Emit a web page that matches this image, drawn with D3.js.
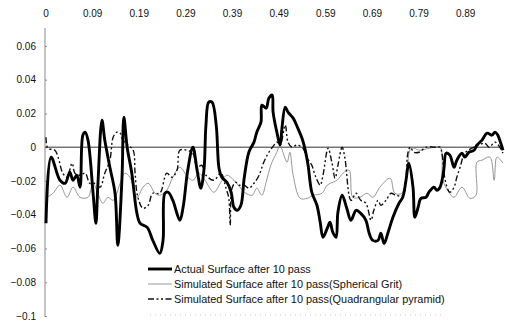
<!DOCTYPE html>
<html>
<head>
<meta charset="utf-8">
<script src="https://cdn.jsdelivr.net/npm/d3@7"></script>
<style>
  body { margin: 0; background: #fff; }
  svg { display: block; font-family: "Liberation Sans", Arial, sans-serif; }
  .axis-y path { stroke: #8a8a8a; }
  .axis-y line { stroke: #8a8a8a; }
  .axis-y text { fill: #111; font-size: 10px; }
  .xlabel { fill: #111; font-size: 10px; }
  .legend text { fill: #111; font-size: 10.9px; }
</style>
</head>
<body>
<div id="chart"></div>
<script>
// x positions of the top labels (category axis, label every 10th point)
const xTickPos = [0, 0.1, 0.2, 0.3, 0.4, 0.5, 0.6, 0.7, 0.8, 0.9];
const xTickLabels = ["0", "0.09", "0.19", "0.29", "0.39", "0.49", "0.59", "0.69", "0.79", "0.89"];
const yTicks = [0.06, 0.04, 0.02, 0, -0.02, -0.04, -0.06, -0.08, -0.1];

const seriesNames = [
  "Actual Surface after 10 pass",
  "Simulated Surface after 10 pass(Spherical Grit)",
  "Simulated Surface after 10 pass(Quadrangular pyramid)"
];

// [x, height]
const actual = [
  [0, -0.0451], [0.011, -0.0059], [0.030, -0.0196], [0.041, -0.0214], [0.051, -0.0148],
  [0.058, -0.0196], [0.066, -0.0166], [0.073, -0.0237], [0.079, 0.0071], [0.084, 0.0089],
  [0.090, 0.0042], [0.101, -0.0273], [0.107, -0.0451], [0.111, -0.0237], [0.120, 0.0160],
  [0.126, 0.0042], [0.137, -0.0119], [0.148, -0.0273], [0.154, -0.0581], [0.163, -0.0178],
  [0.167, 0.0178], [0.174, 0], [0.184, -0.0154], [0.195, -0.0392], [0.202, -0.0451],
  [0.217, -0.0475], [0.229, -0.0552], [0.244, -0.0629], [0.251, -0.0552], [0.255, -0.0273],
  [0.262, -0.0267], [0.272, -0.0315], [0.287, -0.0433], [0.294, -0.0356], [0.304, -0.0136],
  [0.315, 0], [0.324, -0.0136], [0.332, -0.0243], [0.339, -0.0125], [0.343, 0.0131],
  [0.349, 0.0267], [0.356, 0.0267], [0.365, 0.0131], [0.371, -0.0125], [0.377, -0.0178],
  [0.388, -0.0208], [0.397, -0.0267], [0.403, -0.0356], [0.410, -0.0374], [0.418, -0.0344],
  [0.425, -0.0184], [0.435, -0.0030], [0.446, 0.0030], [0.452, 0.0089], [0.461, 0.0148],
  [0.463, 0.0249], [0.472, 0.0231], [0.478, 0.0291], [0.485, 0.0309], [0.487, 0.0208],
  [0.495, 0.0089], [0.502, 0.0012], [0.506, 0.0113], [0.513, 0.0237], [0.519, 0.0208],
  [0.530, 0.0172], [0.540, 0.0113], [0.549, 0.0053], [0.555, -0.0006], [0.562, -0.0107],
  [0.570, -0.0267], [0.581, -0.0344], [0.588, -0.0445], [0.594, -0.0534], [0.603, -0.0481],
  [0.609, -0.0445], [0.615, -0.0504], [0.622, -0.0534], [0.626, -0.0386], [0.635, -0.0285],
  [0.645, -0.0362], [0.654, -0.0433], [0.665, -0.0374], [0.675, -0.0392], [0.686, -0.0433],
  [0.693, -0.0510], [0.701, -0.0552], [0.712, -0.0552], [0.718, -0.0510], [0.725, -0.0570],
  [0.733, -0.0510], [0.744, -0.0415], [0.757, -0.0332], [0.765, -0.0297], [0.772, -0.0196],
  [0.778, -0.0095], [0.787, -0.0237], [0.791, -0.0415], [0.798, -0.0356], [0.804, -0.0303],
  [0.815, -0.0297], [0.821, -0.0267], [0.832, -0.0237], [0.838, -0.0255], [0.845, -0.0237],
  [0.853, -0.0136], [0.858, -0.0036], [0.866, -0.0047], [0.875, -0.0119], [0.881, -0.0077],
  [0.892, -0.0036], [0.898, -0.0059], [0.907, -0.0030], [0.918, -0.0018], [0.924, 0.0012],
  [0.935, 0.0042], [0.946, 0.0083], [0.956, 0.0071], [0.963, 0.0089], [0.969, 0.0071],
  [0.973, 0.0042], [0.980, -0.0018]
];

const spherical = [
  [0.002, -0.0297], [0.015, -0.0273], [0.030, -0.0225], [0.045, -0.0297], [0.058, -0.0237],
  [0.073, -0.0297], [0.090, -0.0297], [0.101, -0.0214], [0.111, -0.0273], [0.122, -0.0332],
  [0.133, -0.0297], [0.144, -0.0315], [0.159, -0.0214], [0.169, -0.0154], [0.180, -0.0178],
  [0.195, -0.0297], [0.208, -0.0237], [0.219, -0.0214], [0.234, -0.0273], [0.244, -0.0285],
  [0.259, -0.0255], [0.272, -0.0178], [0.287, -0.0119], [0.304, -0.0178], [0.315, -0.0196],
  [0.328, -0.0154], [0.341, -0.0196], [0.360, -0.0267], [0.375, -0.0208], [0.388, -0.0166],
  [0.403, -0.0196], [0.416, -0.0237], [0.425, -0.0267], [0.442, -0.0285], [0.452, -0.0243],
  [0.463, -0.0285], [0.472, -0.0208], [0.482, -0.0107], [0.495, -0.0030], [0.502, 0.0012],
  [0.508, -0.0030], [0.517, -0.0089], [0.523, -0.0030], [0.530, -0.0166], [0.545, -0.0303],
  [0.560, -0.0303], [0.573, -0.0285], [0.592, -0.0273], [0.603, -0.0225], [0.624, -0.0196],
  [0.637, -0.0154], [0.650, -0.0136], [0.658, -0.0297], [0.673, -0.0297], [0.688, -0.0273],
  [0.701, -0.0297], [0.716, -0.0237], [0.738, -0.0184], [0.748, -0.0273], [0.763, -0.0273],
  [0.774, -0.0154], [0.783, -0.0006], [0.802, -0.0018], [0.823, -0.0006], [0.845, 0],
  [0.851, -0.0196], [0.864, -0.0267], [0.875, -0.0297], [0.892, -0.0237], [0.909, -0.0303],
  [0.922, -0.0285], [0.924, -0.0089], [0.935, -0.0077], [0.952, -0.0059], [0.961, -0.0196],
  [0.967, -0.0059], [0.980, -0.0095]
];

const pyramid = [
  [0, 0.0059], [0.004, -0.0006], [0.019, -0.0018], [0.026, -0.0059], [0.036, -0.0154],
  [0.045, -0.0178], [0.056, -0.0095], [0.062, -0.0154], [0.073, -0.0166], [0.084, -0.0154],
  [0.094, -0.0214], [0.105, -0.0214], [0.116, -0.0237], [0.126, -0.0154], [0.137, -0.0077],
  [0.144, 0.0059], [0.152, 0.0089], [0.159, 0.0083], [0.165, 0.0042], [0.176, 0.0012],
  [0.187, -0.0018], [0.191, -0.0154], [0.197, -0.0297], [0.208, -0.0362], [0.219, -0.0344],
  [0.229, -0.0273], [0.244, -0.0273], [0.259, -0.0154], [0.270, -0.0178], [0.281, -0.0136],
  [0.287, -0.0018], [0.302, -0.0018], [0.315, -0.0036], [0.324, -0.0119], [0.334, -0.0107],
  [0.343, -0.0166], [0.360, -0.0196], [0.375, -0.0154], [0.386, -0.0243], [0.392, -0.0303],
  [0.395, -0.0463], [0.399, -0.0243], [0.407, -0.0208], [0.414, -0.0225], [0.425, -0.0225],
  [0.435, -0.0243], [0.446, -0.0214], [0.457, -0.0166], [0.467, -0.0089], [0.478, -0.0030],
  [0.489, 0.0012], [0.495, 0.0030], [0.502, 0.0012], [0.513, 0.0131], [0.519, 0.0030],
  [0.527, 0], [0.538, 0.0012], [0.551, -0.0006], [0.560, -0.0065], [0.570, -0.0107],
  [0.577, -0.0166], [0.588, -0.0225], [0.594, -0.0166], [0.605, -0.0006], [0.613, -0.0089],
  [0.620, -0.0184], [0.626, -0.0107], [0.635, 0], [0.641, -0.0065], [0.654, -0.0315],
  [0.665, -0.0273], [0.675, -0.0315], [0.686, -0.0332], [0.697, -0.0433], [0.703, -0.0374],
  [0.712, -0.0315], [0.718, -0.0344], [0.729, -0.0315], [0.740, -0.0273], [0.750, -0.0285],
  [0.765, -0.0285], [0.776, -0.0036], [0.781, 0], [0.789, -0.0030], [0.800, -0.0030],
  [0.815, 0], [0.834, 0], [0.845, 0], [0.849, -0.0036], [0.856, -0.0196],
  [0.866, -0.0267], [0.875, -0.0237], [0.881, -0.0178], [0.888, -0.0119], [0.898, -0.0036],
  [0.913, -0.0006], [0.928, 0.0012], [0.941, 0.0024], [0.950, 0], [0.963, 0.0030],
  [0.973, 0], [0.980, -0.0036]
];

const width = 505, height = 324;
const margin = { top: 29, right: 2, bottom: 8, left: 46 };

const svg = d3.select('#chart').append('svg')
  .attr('width', width)
  .attr('height', height);

const x = d3.scaleLinear().domain([0, 0.98]).range([margin.left, width - margin.right]);
const y = d3.scaleLinear().domain([-0.1, 0.07]).range([height - margin.bottom, margin.top]);

// y axis on the left
const yAxis = svg.append('g')
  .attr('class', 'axis-y')
  .attr('transform', `translate(${margin.left - 1},0)`)
  .call(d3.axisLeft(y).tickValues(yTicks).tickSizeInner(-2).tickSizeOuter(0).tickPadding(9)
    .tickFormat(d => d === 0 ? "0" : d3.format("")(+d.toFixed(2))));
yAxis.select('.domain').attr('d', `M0,${y(0.07) - 1}V${y(-0.1) + 1}`);

// labels of the category axis sit along the top
svg.append('g').selectAll('text')
  .data(xTickPos)
  .join('text')
  .attr('class', 'xlabel')
  .attr('x', d => x(d))
  .attr('y', 17)
  .attr('text-anchor', 'middle')
  .text((d, i) => xTickLabels[i]);

// zero line
svg.append('line')
  .attr('x1', x(0) - 1).attr('x2', x(0.98))
  .attr('y1', y(0)).attr('y2', y(0))
  .attr('stroke', '#333').attr('stroke-width', 1);

const line = d3.line()
  .x(d => x(d[0]))
  .y(d => y(d[1]))
  .curve(d3.curveCatmullRom.alpha(0.5));

const styles = [
  { stroke: '#000', width: 2.9, dash: null },
  { stroke: '#8a8a8a', width: 0.9, dash: null },
  { stroke: '#111', width: 1.4, dash: '6,2.5,2,2.5,2,2.5' }
];

const plot = svg.append('g');
[spherical, pyramid, actual].forEach(s => {
  const st = styles[[actual, spherical, pyramid].indexOf(s)];
  plot.append('path')
    .datum(s)
    .attr('fill', 'none')
    .attr('stroke', st.stroke)
    .attr('stroke-width', st.width)
    .attr('stroke-dasharray', st.dash)
    .attr('stroke-linejoin', 'round')
    .attr('d', line);
});

// legend
const legend = svg.append('g').attr('class', 'legend');
const rowY = [269, 284, 299];
seriesNames.forEach((name, i) => {
  const st = styles[i];
  legend.append('line')
    .attr('x1', 148).attr('x2', 172)
    .attr('y1', rowY[i]).attr('y2', rowY[i])
    .attr('stroke', st.stroke)
    .attr('stroke-width', st.width)
    .attr('stroke-dasharray', st.dash);
  legend.append('text')
    .attr('x', 174)
    .attr('y', rowY[i])
    .attr('dy', '0.35em')
    .text(name);
});

// faint dotted line below the legend
legend.append('line')
  .attr('x1', 150).attr('x2', 445)
  .attr('y1', 315).attr('y2', 315)
  .attr('stroke', '#bbb')
  .attr('stroke-width', 0.8)
  .attr('stroke-dasharray', '1,4');
</script>
</body>
</html>
